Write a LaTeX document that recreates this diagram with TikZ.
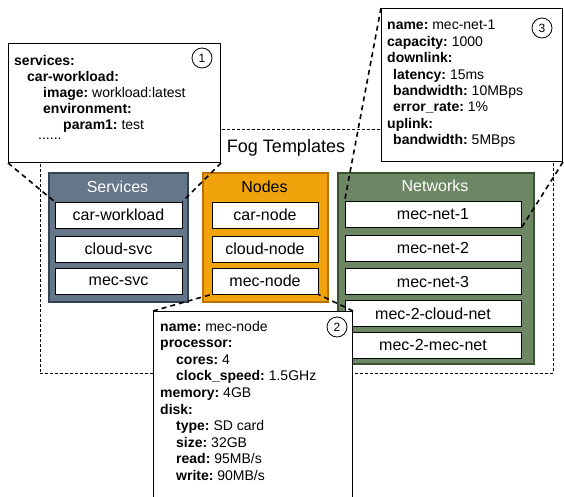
\documentclass[tikz,border=0pt]{standalone}
\usepackage{fontspec}
\setmainfont{Liberation Sans}
\definecolor{svcfill}{HTML}{647687}
\definecolor{svcdraw}{HTML}{314354}
\definecolor{nodefill}{HTML}{F0A30A}
\definecolor{nodedraw}{HTML}{BD7000}
\definecolor{netfill}{HTML}{6D8764}
\definecolor{netdraw}{HTML}{3A5431}
\begin{document}
\begin{tikzpicture}[x=1pt,y=-1pt,
  panel/.style={draw, line width=1.5pt, anchor=north west, inner sep=0},
  item/.style={draw, fill=white, line width=0.8pt, minimum height=26pt, inner sep=0, font=\fontsize{16}{18}\selectfont},
  popup/.style={draw, fill=white, line width=1pt, anchor=north west, inner sep=0},
  link/.style={line width=1.6pt, dash pattern=on 5pt off 4pt},
  numcirc/.style={draw, circle, line width=0.8pt, minimum size=20pt, inner sep=0, font=\fontsize{12}{12}\selectfont},
  yamltxt/.style={anchor=base west, inner sep=0, font=\fontsize{14}{16}\selectfont}]
\path[use as bounding box, clip] (0,0) rectangle (564,497);
\node[draw, line width=0.8pt, dash pattern=on 3pt off 2pt, anchor=north west, minimum width=513pt, minimum height=244pt, inner sep=0] (fog) at (40,129) {};
\node[font=\fontsize{18}{20}\selectfont] (fogtitle) at (286,148) {Fog Templates};

\node[panel, draw=svcdraw, fill=svcfill, minimum width=139pt, minimum height=129pt] (svcpanel) at (48,172) {};
\node[panel, draw=nodedraw, fill=nodefill, minimum width=125pt, minimum height=129pt] (nodepanel) at (202,172) {};
\node[panel, draw=netdraw, fill=netfill, minimum width=196pt, minimum height=191pt] (netpanel) at (337,172) {};
\node[white, font=\fontsize{16}{18}\selectfont] (svctitle) at (117.5,187) {Services};
\node[font=\fontsize{16}{18}\selectfont] (nodetitle) at (264.5,187) {Nodes};
\node[white, font=\fontsize{16}{18}\selectfont] (nettitle) at (435,186) {Networks};

\node[item, minimum width=127pt] (carwl) at (118.5,215) {car-workload};
\node[item, minimum width=127pt] (cloudsvc) at (118.5,249) {cloud-svc};
\node[item, minimum width=127pt] (mecsvc) at (118.5,281) {mec-svc};
\node[item, minimum width=106pt] (carnode) at (265,215) {car-node};
\node[item, minimum width=106pt] (cloudnode) at (265,249) {cloud-node};
\node[item, minimum width=106pt] (mecnode) at (265,281) {mec-node};
\node[item, minimum width=176pt] (net1) at (433,214.5) {mec-net-1};
\node[item, minimum width=176pt] (net2) at (433,248) {mec-net-2};
\node[item, minimum width=176pt] (net3) at (433,281.5) {mec-net-3};
\node[item, minimum width=176pt] (mtwocloud) at (433,313.5) {mec-2-cloud-net};
\node[item, minimum width=176pt] (mtwomec) at (433,345) {mec-2-mec-net};

\node[popup, minimum width=212pt, minimum height=119pt] (svcpop) at (8,43) {};
\node[popup, minimum width=181pt, minimum height=153pt] (netpop) at (381,8) {};
\node[popup, minimum width=199pt, minimum height=200pt] (nodepop) at (153,311) {};

\draw[link] (svcpop.south west) -- (carwl.north west);
\draw[link] (svcpop.south east) -- (carwl.north east);
\draw[link] (nodepop.north west) -- (mecnode.south west);
\draw[link] (nodepop.north east) -- (mecnode.south east);
\draw[link] (netpop.north west) -- (net1.north west);
\draw[link] (netpop.south east) -- (net1.south east);

\node[numcirc] (one) at (202,58) {1};
\node[numcirc] (three) at (542,28) {3};
\node[numcirc] (two) at (337,327) {2};

\foreach \ind/\k/\v [count=\i] in {14/services:/, 27/car-workload:/, 43/image:/workload:latest,
    43/environment:/, 63/param1:/test}
  \node[yamltxt] (svcl\i) at (\ind,50+16*\i) {\textbf{\k}\ifx\v\empty\else\ \v\fi};
\node[yamltxt] (svcdots) at (38,140) {......};

\foreach \ind/\k/\v [count=\i] in {387/name:/mec-net-1, 387/capacity:/1000, 387/downlink:/,
    393/latency:/15ms, 393/bandwidth:/10MBps, 393/error\_rate:/1\%, 387/uplink:/, 393/bandwidth:/5MBps}
  \node[yamltxt] (netl\i) at (\ind,13.6+16.4*\i) {\textbf{\k}\ifx\v\empty\else\ \v\fi};

\foreach \ind/\k/\v [count=\i] in {160/name:/mec-node, 160/processor:/, 176/cores:/4,
    176/clock\_speed:/1.5GHz, 160/memory:/4GB, 160/disk:/, 176/type:/SD card, 176/size:/32GB,
    176/read:/{95MB/s}, 176/write:/{90MB/s}}
  \node[yamltxt] (nodel\i) at (\ind,314.4+16.6*\i) {\textbf{\k}\ifx\v\empty\else\ \v\fi};
\end{tikzpicture}
\end{document}
